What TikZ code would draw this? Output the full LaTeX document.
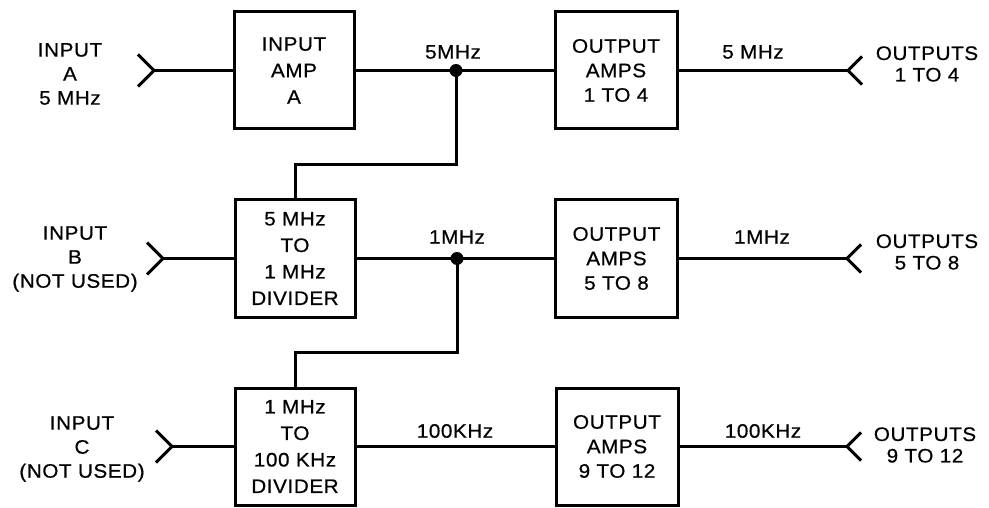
\documentclass[tikz,border=0pt]{standalone}
\usepackage{fontspec}
\setmainfont{Liberation Sans}[FakeStretch=1.06, LetterSpace=3, FakeBold=0.6]
\begin{document}
\begin{tikzpicture}[x=1pt,y=-1pt, line width=3pt,
  box/.style={draw, line width=3pt, minimum width=120pt, minimum height=117pt,
    align=center, inner sep=0pt, font=\fontsize{19.5}{26.5}\selectfont},
  obox/.style={box, minimum width=122pt, font=\fontsize{19.5}{24.5}\selectfont},
  lbl/.style={align=center, inner sep=0pt, font=\fontsize{19.5}{24}\selectfont},
  olbl/.style={align=center, inner sep=0pt, font=\fontsize{19.5}{21.5}\selectfont},
  jdot/.style={circle, fill, inner sep=0pt, minimum size=13pt},
  wire/.style={line width=3pt}]
\useasboundingbox (0,0) rectangle (989,508);

% boxes
\node[box]  (ampA) at (294,70.5)  {INPUT\\AMP\\A};
\node[obox] (out1) at (616,70.5)  {OUTPUT\\AMPS\\1 TO 4};
\node[box]  (divB) at (295,258.5) {5 MHz\\TO\\1 MHz\\DIVIDER};
\node[obox] (out2) at (616.5,258.5) {OUTPUT\\AMPS\\5 TO 8};
\node[box]  (divC) at (295,446.5) {1 MHz\\TO\\100 KHz\\DIVIDER};
\node[obox] (out3) at (617,446.5) {OUTPUT\\AMPS\\9 TO 12};

% junctions
\node[jdot] (j1) at (456,70.5) {};
\node[jdot] (j2) at (457,258.5) {};

% wires
\draw[wire] (ampA.east) -- (j1.center) -- (out1.west);
\draw[wire] (j1.center) -- (j1.center |- 0,165) -| (divB.north);
\draw[wire] (divB.east) -- (j2.center) -- (out2.west);
\draw[wire] (j2.center) -- (j2.center |- 0,352) -| (divC.north);
\draw[wire] (divC.east) -- (out3.west);

% input connectors
\coordinate (iA) at (154,70.5);
\coordinate (iB) at (163,258.5);
\coordinate (iC) at (172,446.5);
\draw[wire] (iA) -- (ampA.west);
\draw[wire] (iB) -- (divB.west);
\draw[wire] (iC) -- (divC.west);
\foreach \p in {iA,iB,iC}
  \draw[wire] ([shift={(-16,-16)}]\p) -- (\p) -- ([shift={(-16,16)}]\p);

% output connectors
\coordinate (o1) at (848,70.5);
\coordinate (o2) at (847,258.5);
\coordinate (o3) at (847,446.5);
\draw[wire] (out1.east) -- (o1);
\draw[wire] (out2.east) -- (o2);
\draw[wire] (out3.east) -- (o3);
\foreach \p in {o1,o2,o3}
  \draw[wire] ([shift={(14,-14)}]\p) -- (\p) -- ([shift={(14,14)}]\p);

% frequency labels
\node[lbl] (f1) at (453,52)  {5MHz};
\node[lbl] (f2) at (753,52)  {5 MHz};
\node[lbl] (f3) at (457,237) {1MHz};
\node[lbl] (f4) at (762,237) {1MHz};
\node[lbl] (f5) at (455,431) {100KHz};
\node[lbl] (f6) at (763,431) {100KHz};

% input labels
\node[lbl] (tA) at (70,74)  {INPUT\\A\\5 MHz};
\node[lbl] (tB) at (75,259) {INPUT\\B\\(NOT USED)};
\node[lbl] (tC) at (82,449) {INPUT\\C\\(NOT USED)};

% output labels
\node[olbl] (u1) at (927,64)  {OUTPUTS\\1 TO 4};
\node[olbl] (u2) at (927,252) {OUTPUTS\\5 TO 8};
\node[olbl] (u3) at (925,445) {OUTPUTS\\9 TO 12};
\end{tikzpicture}
\end{document}
